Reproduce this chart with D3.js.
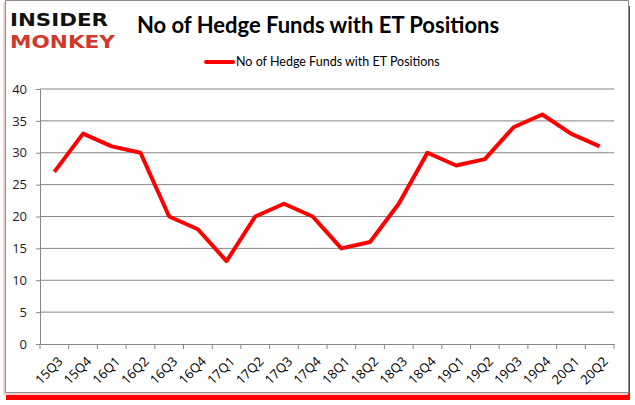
<!DOCTYPE html>
<html>
<head>
<meta charset="utf-8">
<script src="https://cdn.jsdelivr.net/npm/d3@7/dist/d3.min.js"></script>
<style>
  body { margin: 0; background: #fff; }
  svg { display: block; font-family: Lato, "Open Sans", sans-serif; }
</style>
</head>
<body>
<svg width="635" height="405"></svg>
<script>
const quarters = ["15Q3","15Q4","16Q1","16Q2","16Q3","16Q4","17Q1","17Q2","17Q3","17Q4",
                  "18Q1","18Q2","18Q3","18Q4","19Q1","19Q2","19Q3","19Q4","20Q1","20Q2"];
const funds = [27,33,31,30,20,18,13,20,22,20,15,16,22,30,28,29,34,36,33,31];
const yTicks = [0,5,10,15,20,25,30,35,40];
const seriesName = "No of Hedge Funds with ET Positions";

const svg = d3.select("svg");

// frame with red shadow
svg.append("rect").attr("x",6).attr("y",6).attr("width",624).attr("height",394)
  .attr("fill","#ff0000");
svg.append("rect").attr("x",3).attr("y",2).attr("width",625).attr("height",393)
  .attr("fill","#f6d0d0");
svg.append("rect").attr("x",5.5).attr("y",0.5).attr("width",623).attr("height",392)
  .attr("fill","#fff").attr("stroke","#8c8c8c");

// logo
svg.append("text").attr("x",10).attr("y",26).text("INSIDER")
  .attr("font-family","'DejaVu Sans', sans-serif").attr("font-weight",900)
  .attr("font-size",18).attr("fill","#111").attr("textLength",98).attr("lengthAdjust","spacingAndGlyphs");
svg.append("text").attr("x",10).attr("y",48).text("MONKEY")
  .attr("font-family","'DejaVu Sans', sans-serif").attr("font-weight",900)
  .attr("font-size",18).attr("fill","#d0392b").attr("textLength",105).attr("lengthAdjust","spacingAndGlyphs");

// title
svg.append("text").attr("x",318).attr("y",33).attr("text-anchor","middle")
  .attr("font-size",22).attr("font-weight","bold").attr("fill","#000")
  .text(seriesName);

// legend
svg.append("line").attr("x1",206).attr("x2",233).attr("y1",62).attr("y2",62)
  .attr("stroke","#ff0000").attr("stroke-width",4).attr("stroke-linecap","round");
svg.append("text").attr("x",236).attr("y",66).attr("font-size",12.5).attr("fill","#000")
  .text(seriesName);

const x = d3.scaleBand().domain(quarters).range([40, 614]);
const y = d3.scaleLinear().domain([0, 40]).range([344, 89]);

// grid
svg.append("g").selectAll("line").data(yTicks.slice(1)).join("line")
  .attr("x1",40).attr("x2",614).attr("y1",d=>y(d)).attr("y2",d=>y(d))
  .attr("stroke","#868686").attr("stroke-width",1);

// y axis
const yAxis = svg.append("g").attr("transform","translate(40,0)")
  .call(d3.axisLeft(y).tickValues(yTicks).tickSize(4).tickPadding(9));
yAxis.select(".domain").attr("stroke","#868686");
yAxis.selectAll(".tick line").attr("stroke","#868686");
yAxis.selectAll("text").attr("font-size",13).attr("fill","#1a1a2e")
  .attr("font-family","'Open Sans', sans-serif");

// x axis
const xAxis = svg.append("g").attr("transform","translate(0,344)")
  .call(d3.axisBottom(x).tickSize(0).tickFormat(""));
xAxis.select(".domain").attr("stroke","#868686");
const edges = quarters.map(q => x(q)).concat([x.range()[1]]);
xAxis.append("g").selectAll("line").data(edges).join("line")
  .attr("x1",d=>d).attr("x2",d=>d).attr("y1",0).attr("y2",5).attr("stroke","#868686");
xAxis.append("g").selectAll("text").data(quarters).join("text")
  .attr("transform",d=>`translate(${x(d)+x.bandwidth()/2+6},${15}) rotate(-45)`)
  .attr("text-anchor","end").attr("dy","0.35em").attr("font-size",13).attr("fill","#000")
  .attr("font-family","'Open Sans', sans-serif")
  .text(d=>d);

// line
const line = d3.line().x((d,i)=>x(quarters[i]) + x.bandwidth()/2).y(d=>y(d));
svg.append("path").datum(funds).attr("d",line)
  .attr("fill","none").attr("stroke","#ff0000").attr("stroke-width",4)
  .attr("stroke-linejoin","round");
</script>
</body>
</html>
